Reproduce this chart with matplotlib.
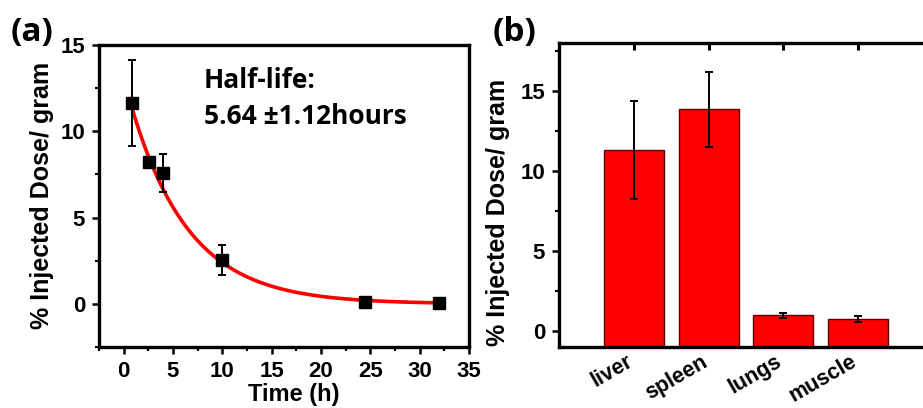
import numpy as np
import matplotlib
matplotlib.use("Agg")
import matplotlib.pyplot as plt
from matplotlib.ticker import MultipleLocator
from matplotlib.transforms import ScaledTranslation

# ---- data ----
time_h = [0.83, 2.6, 4.0, 10.0, 24.5, 32.0]
dose_a = [11.65, 8.2, 7.6, 2.55, 0.1, 0.05]
err_a = [2.5, 0.3, 1.1, 0.85, 0.05, 0.05]
fit_A = 13.1
fit_k = 0.170
fit_t0 = 0.83
fit_t1 = 32.0

organs = ["liver", "spleen", "lungs", "muscle"]
dose_b = [11.3, 13.85, 0.98, 0.75]
err_b = [3.05, 2.35, 0.15, 0.18]
bar_base = -1.0

half_life_text = ["Half-life:", "5.64 \u00b11.12hours"]
ylabel_text = "% Injected Dose/ gram"

tickfont = ["Liberation Sans", "DejaVu Sans"]
calfont = ["Open Sans", "DejaVu Sans"]

fig = plt.figure(figsize=(9.23, 4.08), dpi=100)
W, H = 923, 408

def axes_px(l, r, t, b):
    return fig.add_axes([l / W, 1 - b / H, (r - l) / W, (b - t) / H])

def ftext(x, y, s, **kw):
    return fig.text(x / W, 1 - y / H, s, **kw)

lw_sp = 2.4
TFS = 16

# ---- panel a ----
ax = axes_px(99, 469, 45, 347)
tt = np.linspace(fit_t0, fit_t1, 300)
ax.plot(tt, fit_A * np.exp(-fit_k * tt), color="#ff0000", lw=2.6, zorder=2)
ax.errorbar(time_h, dose_a, yerr=err_a, fmt="s", color="black", ms=8,
            capsize=3, elinewidth=1.4, capthick=1.4, zorder=3)
ax.set_xlim(-2.5, 35)
ax.set_ylim(-2.5, 15)
ax.xaxis.set_major_locator(MultipleLocator(5))
ax.xaxis.set_minor_locator(MultipleLocator(2.5))
ax.yaxis.set_major_locator(MultipleLocator(5))
ax.yaxis.set_minor_locator(MultipleLocator(2.5))
for s in ax.spines.values():
    s.set_linewidth(lw_sp)
ax.tick_params(which="major", direction="out", length=5, width=1.8, pad=5)
ax.tick_params(which="minor", direction="out", length=3, width=1.5)
for lab in ax.get_xticklabels() + ax.get_yticklabels():
    lab.set_fontfamily(tickfont)
    lab.set_fontweight("bold")
    lab.set_fontsize(TFS)
ftext(294, 394, "Time (h)", family=tickfont, fontweight="bold", fontsize=17,
      ha="center", va="center")
ftext(42, 195, ylabel_text, family=tickfont, fontweight="bold", fontsize=18,
      rotation=90, ha="center", va="center")
ax.text(0.284, 0.884, half_life_text[0], transform=ax.transAxes, family=calfont,
        fontweight="bold", fontsize=19, va="center", ha="left")
ax.text(0.284, 0.762, half_life_text[1], transform=ax.transAxes, family=calfont,
        fontweight="bold", fontsize=19, va="center", ha="left")
ftext(32, 33, "(a)", family=calfont, fontweight="bold", fontsize=24,
      ha="center", va="center")

# ---- panel b ----
bx = axes_px(559, 933, 43, 347)
xpos = np.arange(len(organs))
heights = [v - bar_base for v in dose_b]
bx.bar(xpos, heights, bottom=bar_base, width=0.8, color="#ff0000", edgecolor="#600000",
       linewidth=1.0, zorder=2)
bx.errorbar(xpos, dose_b, yerr=err_b, fmt="none", ecolor="black", elinewidth=1.4,
            capsize=3, capthick=1.4, zorder=3)
bx.set_xlim(-1, 4)
bx.set_ylim(-1, 18)
bx.set_xticks(xpos)
bx.set_xticklabels(organs, rotation=30, ha="right", rotation_mode="anchor")
bx.yaxis.set_major_locator(MultipleLocator(5))
bx.yaxis.set_minor_locator(MultipleLocator(2.5))
for s in bx.spines.values():
    s.set_linewidth(lw_sp)
bx.tick_params(axis="x", which="major", direction="in", length=5, width=2.2, pad=3,
               top=True)
bx.tick_params(axis="y", which="major", direction="out", length=5, width=1.8, pad=5)
bx.tick_params(axis="y", which="minor", direction="out", length=3, width=1.5)
for lab in bx.get_yticklabels():
    lab.set_fontfamily(tickfont)
    lab.set_fontweight("bold")
    lab.set_fontsize(TFS)
shift = ScaledTranslation(-8 / 100, 0, fig.dpi_scale_trans)
for lab in bx.get_xticklabels():
    lab.set_fontfamily(tickfont)
    lab.set_fontweight("bold")
    lab.set_fontsize(15.5)
    lab.set_transform(lab.get_transform() + shift)
ftext(498, 212, ylabel_text, family=tickfont, fontweight="bold", fontsize=18,
      rotation=90, ha="center", va="center")
ftext(515, 33, "(b)", family=calfont, fontweight="bold", fontsize=24,
      ha="center", va="center")

fig.savefig("out.png", dpi=100)
